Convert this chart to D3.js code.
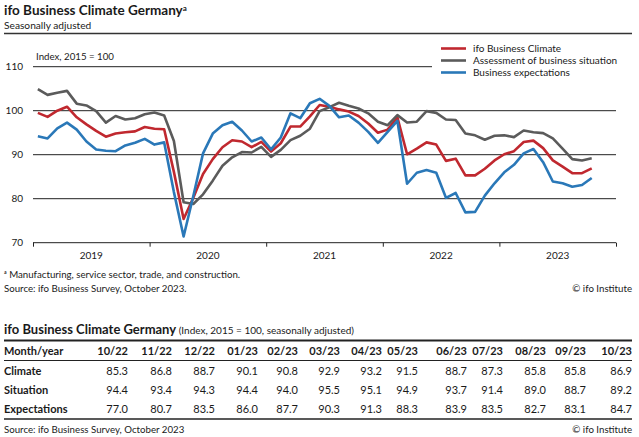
<!DOCTYPE html>
<html>
<head>
<meta charset="utf-8">
<script src="https://cdn.jsdelivr.net/npm/d3@7"></script>
<style>
  html, body { margin: 0; padding: 0; background: #fff; }
  svg { display: block; font-family: Lato, "Open Sans", sans-serif; }
</style>
</head>
<body>
<svg id="chart" width="639" height="437"></svg>
<script>
// ---- Data (monthly, Jan 2019 – Oct 2023, index 2015 = 100) ----
const years = [2019, 2020, 2021, 2022, 2023];
const yTicks = [70, 80, 90, 100, 110];

const climate = [
  99.5, 98.6, 100.0, 100.9, 98.5, 96.9, 95.4, 94.1, 94.8, 95.1, 95.3, 96.3,
  95.9, 95.8, 86.1, 75.4, 80.2, 85.6, 89.0, 91.7, 93.3, 93.0, 91.7, 92.9,
  90.7, 92.6, 96.4, 96.4, 98.7, 101.3, 100.9, 100.3, 99.8, 98.8, 97.1, 95.0,
  95.7, 98.5, 90.1, 91.4, 92.8, 92.3, 88.6, 89.1, 85.3,
  85.3, 86.8, 88.7, 90.1, 90.8, 92.9, 93.2, 91.5, 88.7, 87.3, 85.8, 85.8, 86.9
];
const situation = [
  104.9, 103.6, 104.1, 104.5, 101.6, 101.2, 99.9, 97.3, 98.8, 98.0, 98.3, 99.2,
  99.6, 98.9, 93.1, 79.2, 78.8, 81.0, 84.1, 87.5, 89.4, 90.6, 90.5, 91.8,
  89.5, 91.1, 93.3, 94.3, 95.9, 99.9, 100.8, 101.8, 101.1, 100.5, 99.4, 97.5,
  96.7, 99.0, 97.3, 97.5, 99.9, 99.5, 98.0, 97.9, 94.8,
  94.4, 93.4, 94.3, 94.4, 94.0, 95.5, 95.1, 94.9, 93.7, 91.4, 89.0, 88.7, 89.2
];
const expectations = [
  94.2, 93.7, 96.0, 97.3, 95.7, 93.0, 91.2, 90.9, 90.8, 92.1, 92.7, 93.6,
  92.3, 92.8, 81.5, 71.4, 80.6, 90.3, 94.8, 96.7, 97.5, 95.5, 93.0, 93.9,
  91.2, 93.9, 99.4, 98.3, 101.7, 102.7, 101.1, 98.5, 98.9, 97.3, 95.2, 92.7,
  95.2, 97.7, 83.4, 85.9, 86.5, 85.9, 80.2, 81.3, 76.9,
  77.0, 80.7, 83.5, 86.0, 87.7, 90.3, 91.3, 88.3, 83.9, 83.5, 82.7, 83.1, 84.7
];
const tableMonths = ["10/22","11/22","12/22","01/23","02/23","03/23","04/23",
                     "05/23","06/23","07/23","08/23","09/23","10/23"];
const seriesNames = ["ifo Business Climate", "Assessment of business situation", "Business expectations"];
const tableRowNames = ["Climate", "Situation", "Expectations"];

// ---- Setup ----
const svg = d3.select("#chart");
const colors = ["#c0282f", "#5b5b5b", "#2a78b8"];
const ink = "#1a1a1a";
svg.append("rect").attr("width", 639).attr("height", 437).attr("fill", "#fff");

// Header
const title = svg.append("text").attr("x", 4).attr("y", 14.5)
  .attr("font-size", 13.5).attr("font-weight", 700).attr("fill", ink)
  .text("ifo Business Climate Germany");
title.append("tspan").attr("font-size", 8).attr("dy", -4).text("a");
svg.append("text").attr("x", 4).attr("y", 29).attr("font-size", 10.2).attr("fill", ink)
  .text("Seasonally adjusted");
svg.append("line").attr("x1", 4).attr("x2", 632).attr("y1", 33.5).attr("y2", 33.5)
  .attr("stroke", "#333").attr("stroke-width", 1.3);

// Scales
const nMonths = years.length * 12;
const x = d3.scaleLinear().domain([0, nMonths]).range([33, 616]);
const y = d3.scaleLinear().domain([70, 110]).range([242.7, 66.7]);

// Gridlines
svg.append("g").selectAll("line").data(yTicks).join("line")
  .attr("x1", x(0))
  .attr("x2", d => d === 110 ? 432 : x(nMonths))
  .attr("y1", d => y(d)).attr("y2", d => y(d))
  .attr("stroke", "#222").attr("stroke-width", 1);

// Y labels
svg.append("g").selectAll("text").data(yTicks).join("text")
  .attr("x", 23).attr("y", d => y(d) + 3.5).attr("text-anchor", "end")
  .attr("font-size", 10).attr("fill", ink).text(d => d);

svg.append("text").attr("x", 36).attr("y", 60).attr("font-size", 9.7).attr("fill", ink)
  .text("Index, 2015 = 100");

// X axis ticks and year labels
const xAxis = d3.axisBottom(x)
  .tickValues(d3.range(0, nMonths + 1, 12))
  .tickSize(4).tickFormat("");
const gx = svg.append("g").attr("transform", `translate(0,${y(70)})`).call(xAxis);
gx.select(".domain").remove();
gx.selectAll(".tick line").attr("stroke", "#222");
svg.append("g").selectAll("text").data(years).join("text")
  .attr("x", (d, i) => x(i * 12 + 6)).attr("y", 259)
  .attr("text-anchor", "middle").attr("font-size", 10).attr("fill", ink).text(d => d);

// Lines
const line = d3.line().x((d, i) => x(i + 0.5)).y(d => y(d));
[climate, situation, expectations].forEach((s, k) => {
  svg.append("path").datum(s).attr("d", line)
    .attr("fill", "none").attr("stroke", colors[k]).attr("stroke-width", 2.6)
    .attr("stroke-linejoin", "round");
});

// Legend
const lg = svg.append("g");
seriesNames.forEach((n, k) => {
  const ly = 48.5 + k * 12;
  lg.append("line").attr("x1", 441).attr("x2", 466).attr("y1", ly).attr("y2", ly)
    .attr("stroke", colors[k]).attr("stroke-width", 2.6);
  lg.append("text").attr("x", 473).attr("y", ly + 3.5).attr("font-size", 10)
    .attr("fill", ink).text(n);
});

// Footnotes
svg.append("text").attr("x", 4).attr("y", 278).attr("font-size", 9.7).attr("fill", ink)
  .text("ᵃ Manufacturing, service sector, trade, and construction.");
svg.append("text").attr("x", 4).attr("y", 292).attr("font-size", 9.7).attr("fill", ink)
  .text("Source: ifo Business Survey, October 2023.");
svg.append("text").attr("x", 632).attr("y", 292).attr("font-size", 9.7).attr("fill", ink)
  .attr("text-anchor", "end").text("© ifo Institute");

// Table
const tt = svg.append("text").attr("x", 4).attr("y", 334).attr("font-size", 13)
  .attr("font-weight", 700).attr("fill", ink).text("ifo Business Climate Germany");
tt.append("tspan").attr("font-size", 10).attr("font-weight", 400)
  .text(" (Index, 2015 = 100, seasonally adjusted)");

svg.append("line").attr("x1", 4).attr("x2", 632).attr("y1", 340.5).attr("y2", 340.5)
  .attr("stroke", "#222").attr("stroke-width", 1.8);
svg.append("line").attr("x1", 4).attr("x2", 632).attr("y1", 360.5).attr("y2", 360.5)
  .attr("stroke", "#222").attr("stroke-width", 1);
svg.append("line").attr("x1", 4).attr("x2", 632).attr("y1", 419).attr("y2", 419)
  .attr("stroke", "#222").attr("stroke-width", 1.3);

const colRight = [128, 172, 215, 258, 298, 340, 382, 418, 467, 503, 546, 586, 632];
svg.append("text").attr("x", 4).attr("y", 355).attr("font-size", 11)
  .attr("font-weight", 700).attr("fill", ink).text("Month/year");
svg.append("g").selectAll("text").data(tableMonths).join("text")
  .attr("x", (d, i) => colRight[i]).attr("y", 355).attr("text-anchor", "end")
  .attr("font-size", 11).attr("font-weight", 700).attr("fill", ink).text(d => d);

const nT = tableMonths.length;
const rows = [climate, situation, expectations].map(s => s.slice(s.length - nT));
rows.forEach((r, k) => {
  const ry = 374.5 + k * 19.3;
  svg.append("text").attr("x", 4).attr("y", ry).attr("font-size", 11)
    .attr("font-weight", 700).attr("fill", ink).text(tableRowNames[k]);
  svg.append("g").selectAll("text").data(r).join("text")
    .attr("x", (d, i) => colRight[i]).attr("y", ry).attr("text-anchor", "end")
    .attr("font-size", 11).attr("fill", ink).text(d => d.toFixed(1));
});

svg.append("text").attr("x", 4).attr("y", 433).attr("font-size", 9.7).attr("fill", ink)
  .text("Source: ifo Business Survey, October 2023");
svg.append("text").attr("x", 632).attr("y", 433).attr("font-size", 9.7).attr("fill", ink)
  .attr("text-anchor", "end").text("© ifo Institute");
</script>
</body>
</html>
